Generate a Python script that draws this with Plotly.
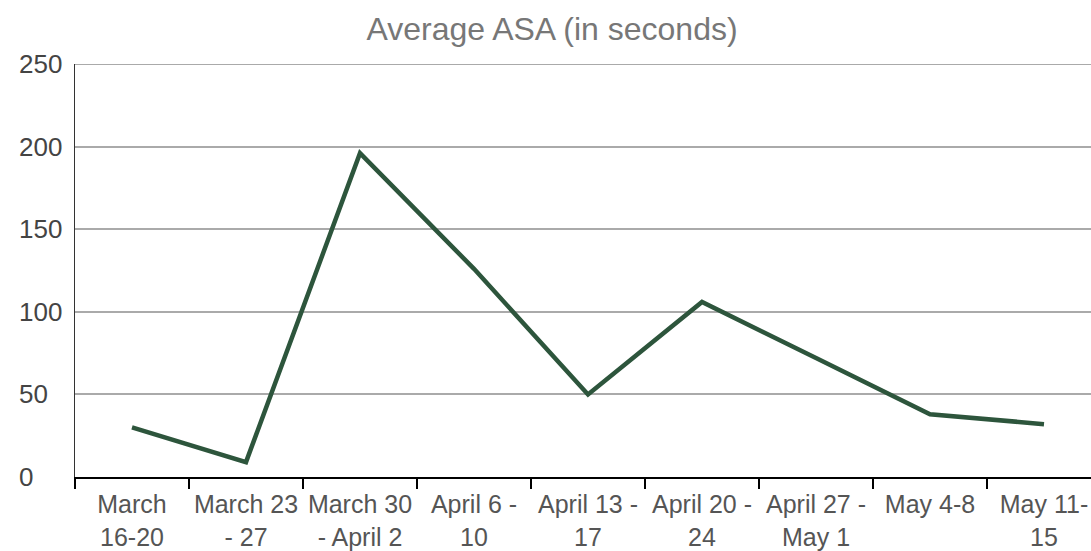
import plotly.graph_objects as go

categories = ["March<br>16-20", "March 23<br>- 27", "March 30<br>- April 2", "April 6 -<br>10",
              "April 13 -<br>17", "April 20 -<br>24", "April 27 -<br>May 1", "May 4-8", "May 11-<br>15"]
asa_seconds = [30, 9, 196, 126, 50, 106, 72, 38, 32]
y_ticks = [0, 50, 100, 150, 200, 250]

L, T, B = 75, 64, 74
W, H = 1091, 551
plot_w = W - L

fig = go.Figure()
fig.add_trace(go.Scatter(
    x=categories, y=asa_seconds, mode="lines",
    line=dict(color="#2d553c", width=4.5),
    hoverinfo="skip", showlegend=False,
))

# top gridline (Plotly hides the grid line at the range edge)
fig.add_shape(type="line", xref="paper", yref="y", x0=0, x1=1, y0=250, y1=250,
              line=dict(color="#aaaaaa", width=2), layer="below")

# left-aligned y tick labels
for v in y_ticks:
    fig.add_annotation(text=str(v), xref="paper", yref="y", x=(17 - L) / plot_w, y=v,
                       xanchor="left", yanchor="middle", showarrow=False,
                       font=dict(size=26, color="#444444"))

fig.update_layout(
    width=W, height=H,
    margin=dict(l=L, r=0, t=T, b=B),
    paper_bgcolor="white", plot_bgcolor="white",
    font=dict(family="Liberation Sans, Arial, sans-serif"),
    title=dict(text="Average ASA (in seconds)", x=552/W, xanchor="center",
               y=1 - 29/H, yanchor="middle", yref="container",
               font=dict(size=32, color="#777777")),
    xaxis=dict(
        type="category", range=[-0.5, -0.5 + plot_w / 114.0], tickson="boundaries",
        ticks="outside", ticklen=10, tickwidth=1.5, tickcolor="black",
        showgrid=False, showline=True, linecolor="black", linewidth=2,
        tickfont=dict(size=25, color="#555555"), automargin=False,
        ticklabelstandoff=4,
    ),
    yaxis=dict(
        range=[0, 250], tickvals=y_ticks, showticklabels=False,
        showgrid=True, gridcolor="#aaaaaa", gridwidth=2,
        zeroline=False, showline=True, linecolor="#333333", linewidth=1.5,
        ticks="", automargin=False,
    ),
)

fig.write_html("out.html", config={"displayModeBar": False, "staticPlot": True},
               post_script="document.body.style.margin='0';document.body.style.overflow='hidden';")
